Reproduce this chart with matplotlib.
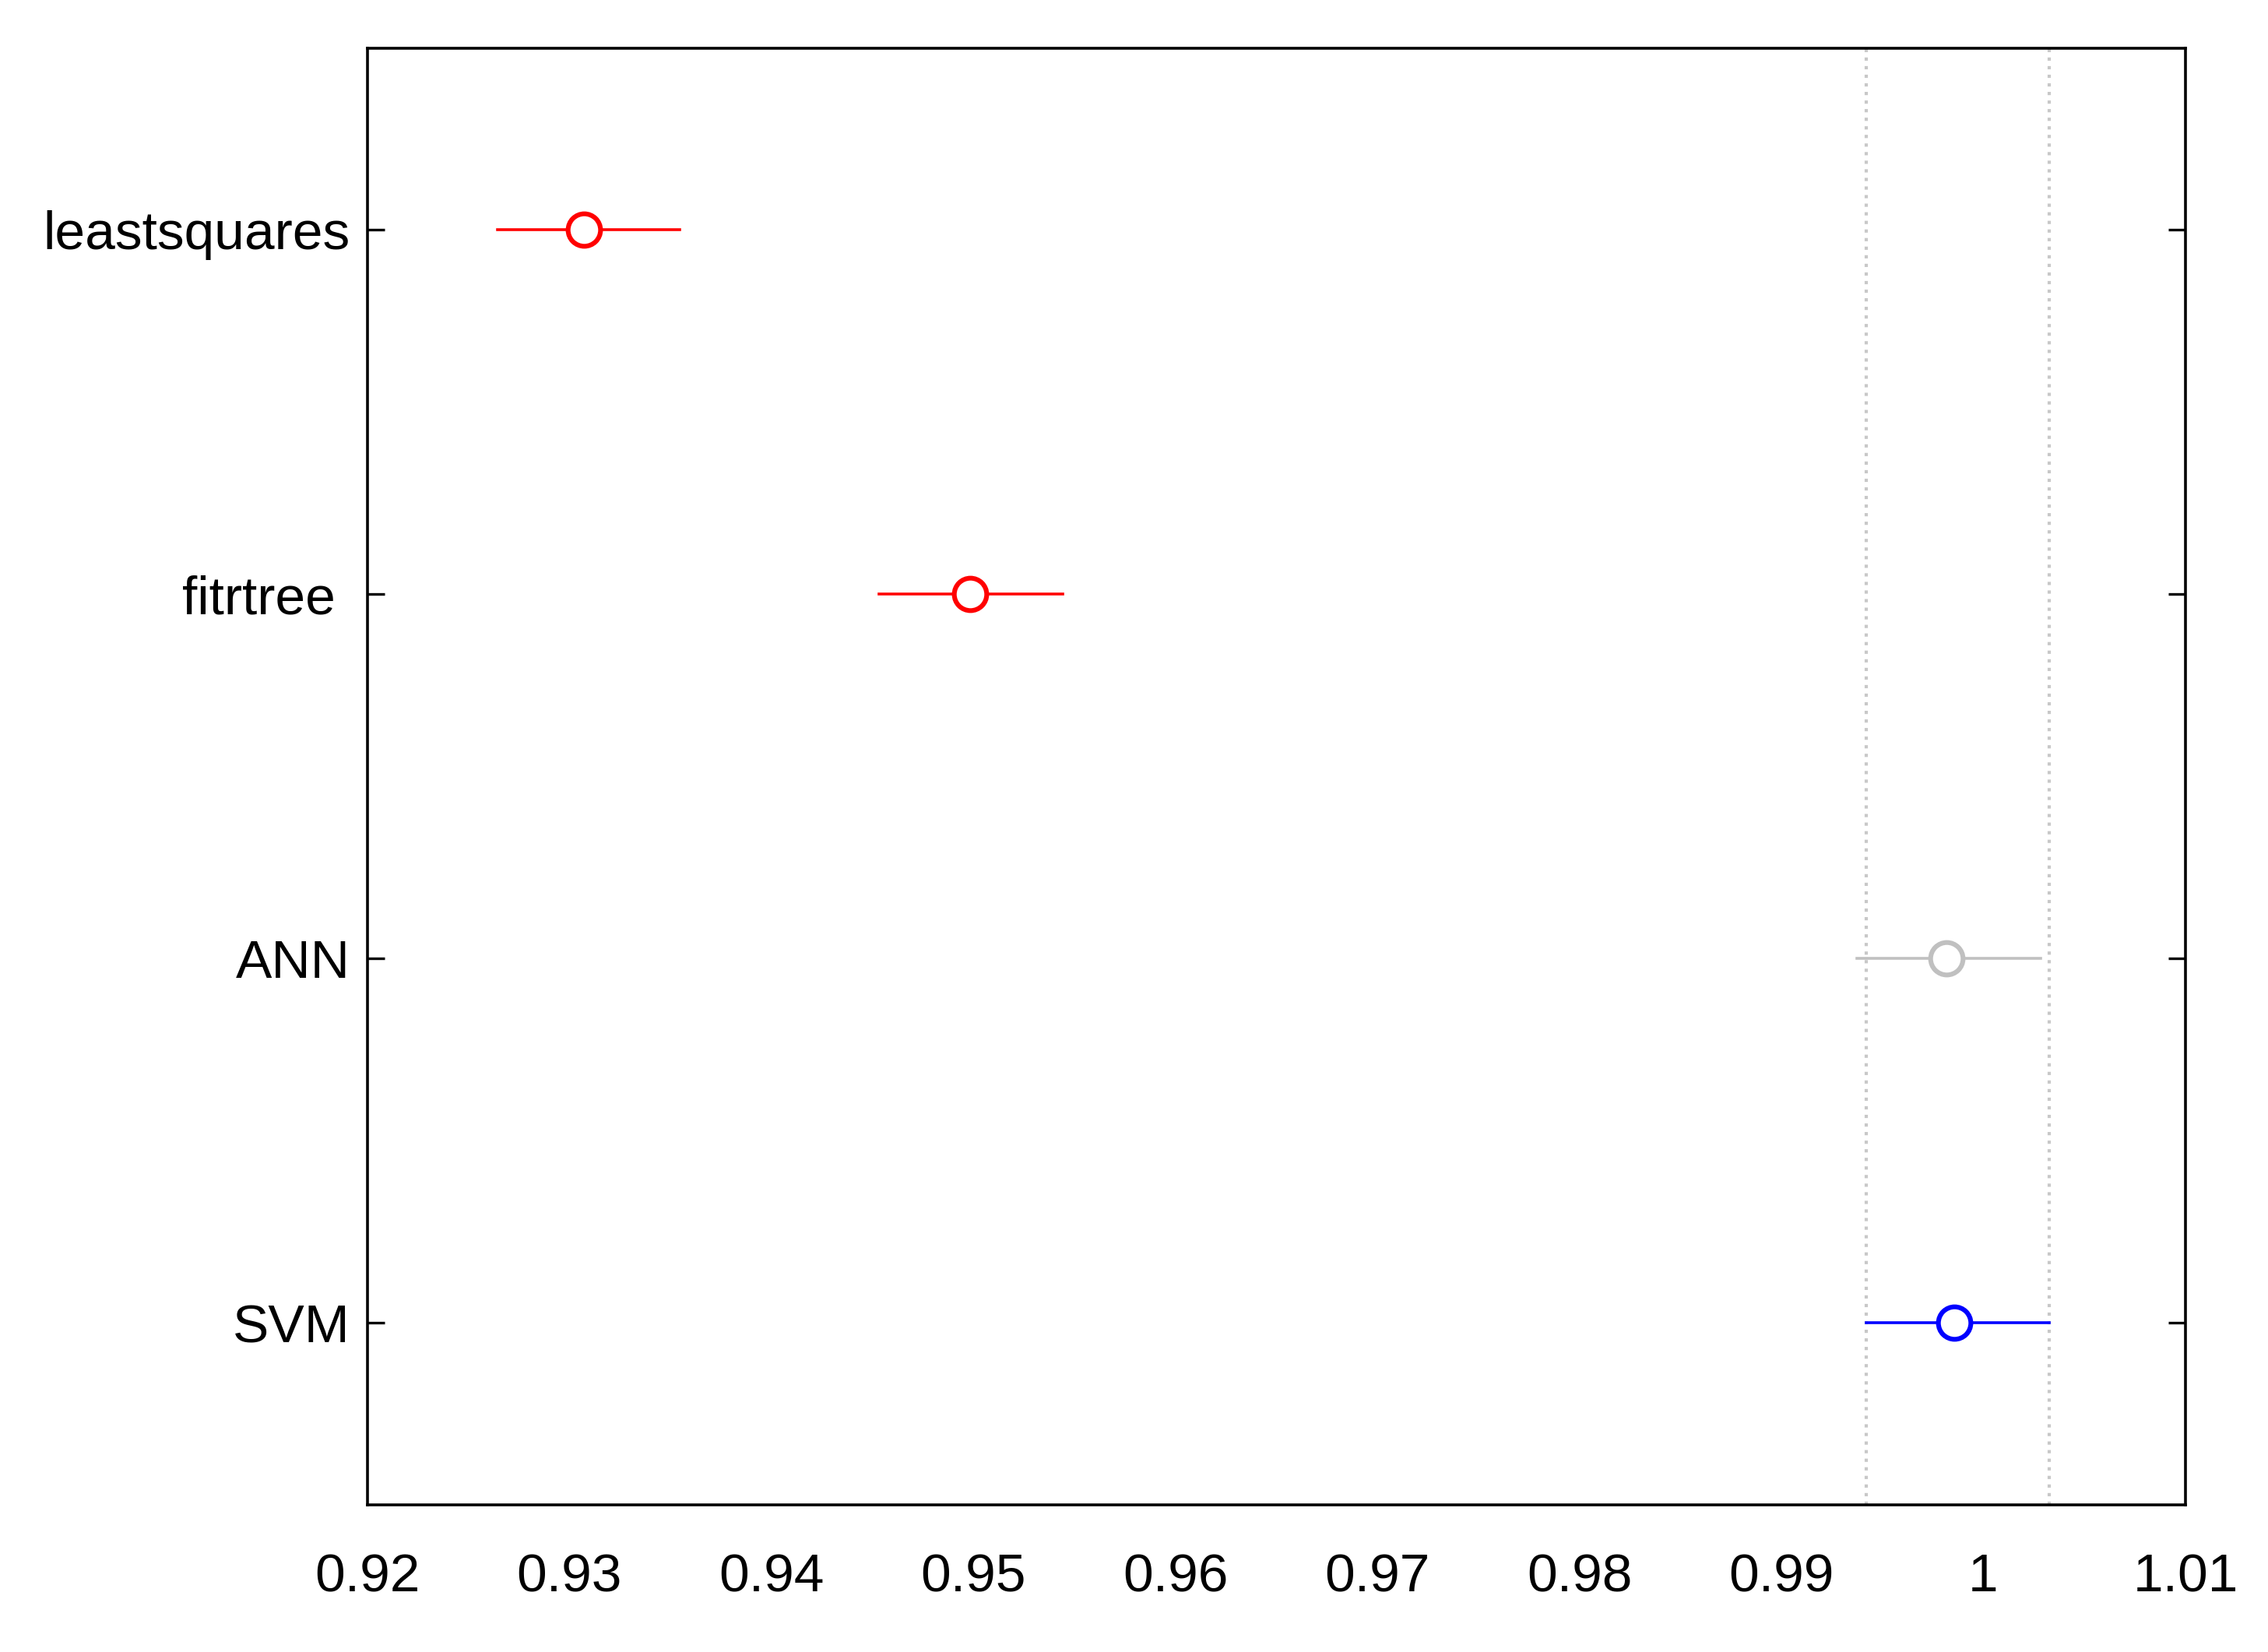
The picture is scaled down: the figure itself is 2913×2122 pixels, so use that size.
import matplotlib
matplotlib.use("Agg")
import matplotlib.pyplot as plt

groups = ["SVM", "ANN", "fitrtree ", "leastsquares"]
means = [0.99854, 0.99818, 0.94983, 0.93073]
lower = [0.99418, 0.99375, 0.94532, 0.92644]
upper = [1.00326, 1.00283, 0.95441, 0.93545]
colors = ["blue", "#c0c0c0", "red", "red"]
xticks = [0.92, 0.93, 0.94, 0.95, 0.96, 0.97, 0.98, 0.99, 1.00, 1.01]
xticklabels = ["0.92", "0.93", "0.94", "0.95", "0.96", "0.97", "0.98", "0.99", "1", "1.01"]

plt.rcParams["font.family"] = ["Liberation Sans", "DejaVu Sans"]
fig = plt.figure(figsize=(14.565, 10.61), dpi=200)
ax = fig.add_axes([0.162, 0.089, 0.8016, 0.882])

ys = range(1, len(groups) + 1)
for y, m, lo, hi, c in zip(ys, means, lower, upper, colors):
    ax.plot([lo, hi], [y, y], color=c, lw=1.3)
    ax.plot(m, y, "o", mfc="white", mec=c, ms=15, mew=2.2)

# reference interval of the selected group (SVM)
for x in (lower[0], upper[0]):
    ax.axvline(x, color="#c8c8c8", ls=":", lw=1.5, zorder=0)

ax.set_xlim(0.92, 1.01)
ax.set_ylim(0.5, 4.5)
ax.set_xticks(xticks)
ax.set_xticklabels(xticklabels)
ax.set_yticks(list(ys))
ax.set_yticklabels(groups)
ax.tick_params(axis="y", direction="in", length=8, width=1.2, right=True, labelsize=25, pad=8)
ax.tick_params(axis="x", length=0, labelsize=25, pad=22)
for s in ax.spines.values():
    s.set_linewidth(1.3)

fig.savefig("out.png", dpi=200)
